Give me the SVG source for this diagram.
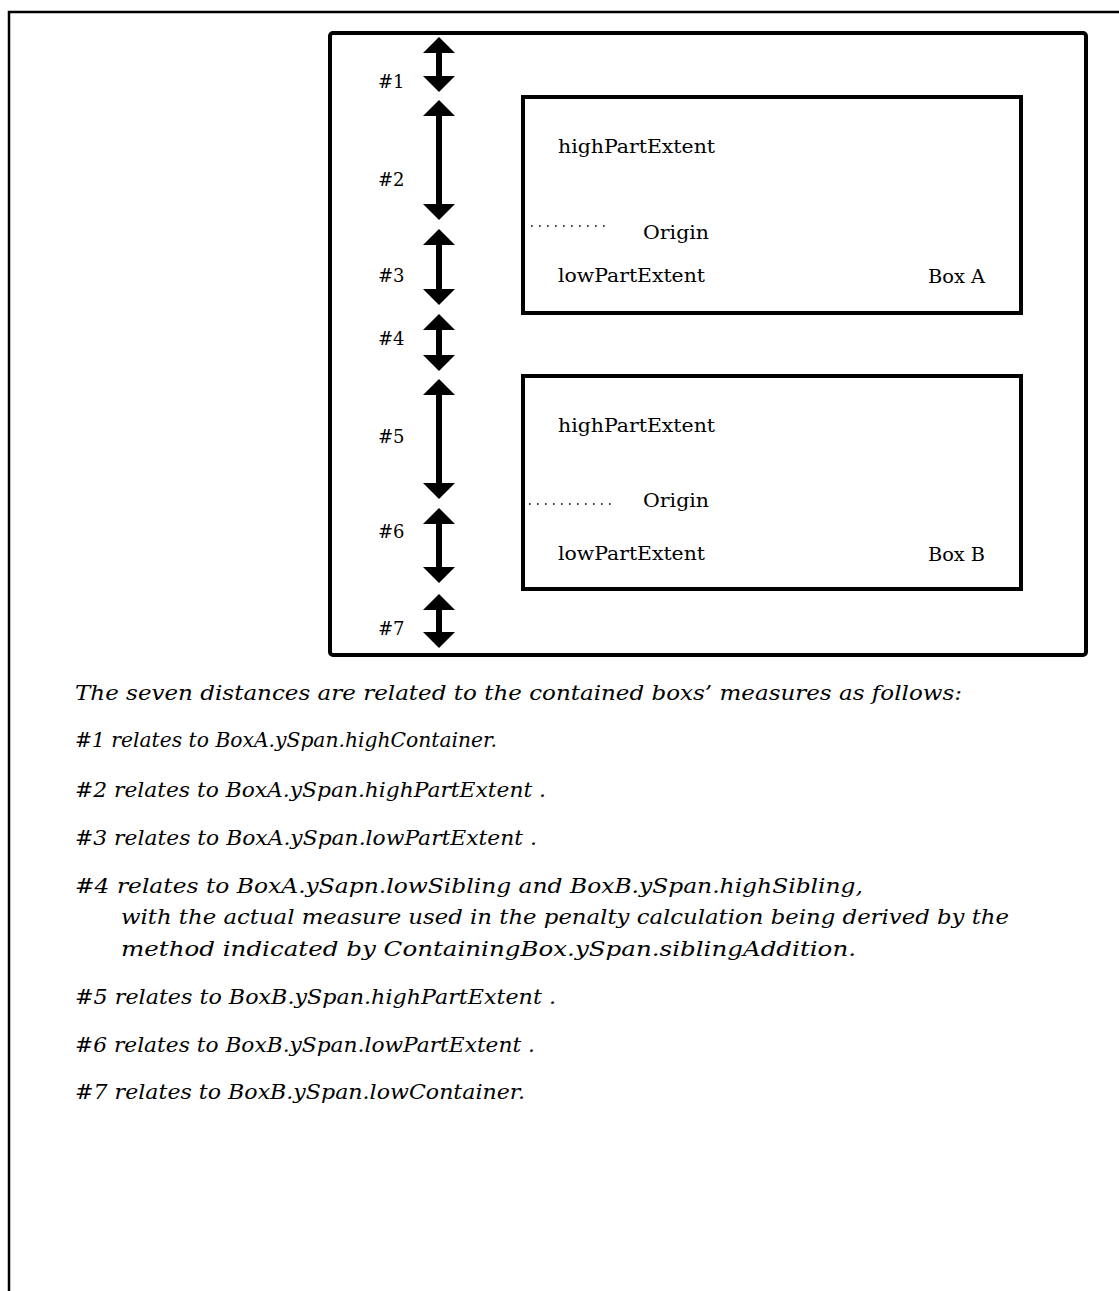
<svg xmlns="http://www.w3.org/2000/svg" width="1119" height="1291" viewBox="0 0 1119 1291">
<style>
.frame{fill:none;stroke:#000;stroke-width:2.5}
.box{fill:none;stroke:#000;stroke-width:4}
.arr{fill:#000;stroke:none}
.dot{stroke:#000;stroke-width:1.6;stroke-dasharray:1.6 6.4;fill:none}
.lbl{font-family:"DejaVu Serif","Liberation Serif",serif;font-size:18px;fill:#000}
.num{font-family:"DejaVu Serif","Liberation Serif",serif;font-size:18px;fill:#000}
.cap{font-family:"DejaVu Serif","Liberation Serif",serif;font-style:italic;font-size:21px;fill:#000}
</style>
<rect width="1119" height="1291" fill="#fff"/>
<path class="frame" d="M9,1291 V12 H1119"/>
<g id="container">
<rect class="box" x="330" y="33" width="756" height="622" rx="3"/>
</g>
<g id="boxA">
<rect class="box" x="523" y="97" width="498" height="216"/>
<text class="lbl" x="558" y="153" textLength="157" lengthAdjust="spacingAndGlyphs">highPartExtent</text>
<line class="dot" x1="531" y1="226" x2="607" y2="226"/>
<text class="lbl" x="643" y="239" textLength="66" lengthAdjust="spacingAndGlyphs">Origin</text>
<text class="lbl" x="558" y="282" textLength="147" lengthAdjust="spacingAndGlyphs">lowPartExtent</text>
<text class="lbl" x="928" y="283" textLength="57" lengthAdjust="spacingAndGlyphs">Box A</text>
</g>
<g id="boxB">
<rect class="box" x="523" y="376" width="498" height="213"/>
<text class="lbl" x="558" y="432" textLength="157" lengthAdjust="spacingAndGlyphs">highPartExtent</text>
<line class="dot" x1="529" y1="504" x2="613" y2="504"/>
<text class="lbl" x="643" y="507" textLength="66" lengthAdjust="spacingAndGlyphs">Origin</text>
<text class="lbl" x="558" y="560" textLength="147" lengthAdjust="spacingAndGlyphs">lowPartExtent</text>
<text class="lbl" x="928" y="561" textLength="57" lengthAdjust="spacingAndGlyphs">Box B</text>
</g>
<g id="labels">
<text class="num" x="378" y="88">#1</text>
<text class="num" x="378" y="186">#2</text>
<text class="num" x="378" y="282">#3</text>
<text class="num" x="378" y="345">#4</text>
<text class="num" x="378" y="443">#5</text>
<text class="num" x="378" y="538">#6</text>
<text class="num" x="378" y="635">#7</text>
</g>
<g id="connectors">
<path class="arr" d="M439,37 L455,53 L442,53 L442,76 L455,76 L439,92 L423,76 L436,76 L436,53 L423,53 Z"/>
<path class="arr" d="M439,100 L455,116 L442,116 L442,204 L455,204 L439,220 L423,204 L436,204 L436,116 L423,116 Z"/>
<path class="arr" d="M439,229 L455,245 L442,245 L442,289 L455,289 L439,305 L423,289 L436,289 L436,245 L423,245 Z"/>
<path class="arr" d="M439,314 L455,330 L442,330 L442,355 L455,355 L439,371 L423,355 L436,355 L436,330 L423,330 Z"/>
<path class="arr" d="M439,379 L455,395 L442,395 L442,483 L455,483 L439,499 L423,483 L436,483 L436,395 L423,395 Z"/>
<path class="arr" d="M439,508 L455,524 L442,524 L442,567 L455,567 L439,583 L423,567 L436,567 L436,524 L423,524 Z"/>
<path class="arr" d="M439,594 L455,610 L442,610 L442,632 L455,632 L439,648 L423,632 L436,632 L436,610 L423,610 Z"/>
</g>
<g id="caption">
<text class="cap" x="75" y="700" textLength="887" lengthAdjust="spacingAndGlyphs">The seven distances are related to the contained boxs’ measures as follows:</text>
<text class="cap" x="75" y="747" textLength="422" lengthAdjust="spacingAndGlyphs">#1 relates to BoxA.ySpan.highContainer.</text>
<text class="cap" x="75" y="797" textLength="471" lengthAdjust="spacingAndGlyphs">#2 relates to BoxA.ySpan.highPartExtent .</text>
<text class="cap" x="75" y="845" textLength="462" lengthAdjust="spacingAndGlyphs">#3 relates to BoxA.ySpan.lowPartExtent .</text>
<text class="cap" x="75" y="893" textLength="788" lengthAdjust="spacingAndGlyphs">#4 relates to BoxA.ySapn.lowSibling and BoxB.ySpan.highSibling,</text>
<text class="cap" x="121" y="924" textLength="888" lengthAdjust="spacingAndGlyphs">with the actual measure used in the penalty calculation being derived by the</text>
<text class="cap" x="121" y="956" textLength="735" lengthAdjust="spacingAndGlyphs">method indicated by ContainingBox.ySpan.siblingAddition.</text>
<text class="cap" x="75" y="1004" textLength="481" lengthAdjust="spacingAndGlyphs">#5 relates to BoxB.ySpan.highPartExtent .</text>
<text class="cap" x="75" y="1052" textLength="460" lengthAdjust="spacingAndGlyphs">#6 relates to BoxB.ySpan.lowPartExtent .</text>
<text class="cap" x="75" y="1099" textLength="450" lengthAdjust="spacingAndGlyphs">#7 relates to BoxB.ySpan.lowContainer.</text>
</g>
</svg>
